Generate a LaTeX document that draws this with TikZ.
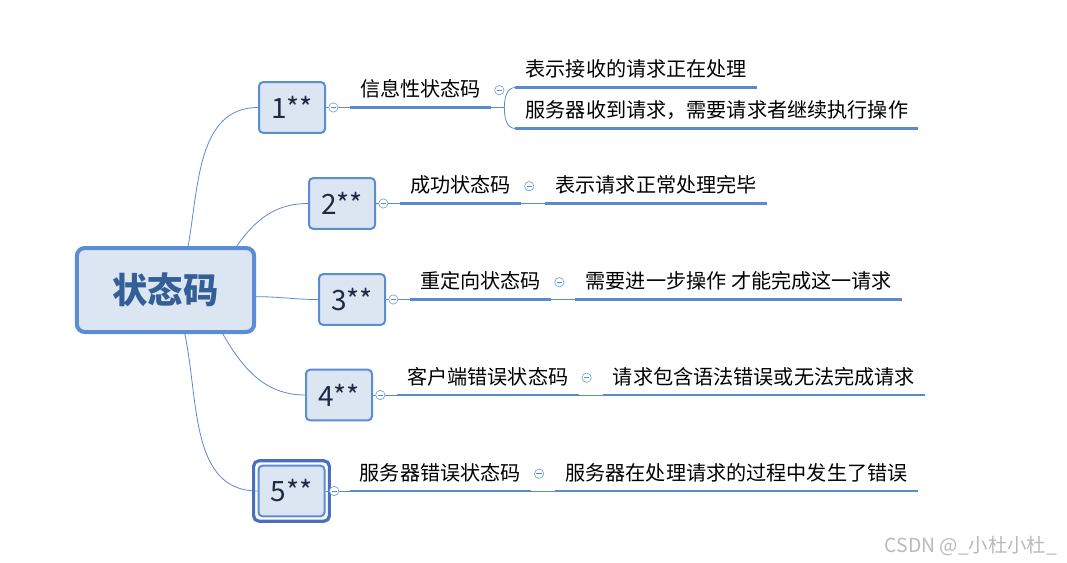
\documentclass[tikz,border=0pt]{standalone}
\usepackage{fontspec}
\setmainfont{Noto Sans CJK SC}
\usetikzlibrary{positioning}
\definecolor{boxblue}{HTML}{5B8DD4}
\definecolor{boxfill}{HTML}{DCE6F2}
\definecolor{rootext}{HTML}{335F96}
\definecolor{codetext}{HTML}{1F2A44}
\definecolor{lineblue}{HTML}{5A8AD0}
\definecolor{selblue}{HTML}{4A6FBF}
\tikzset{
    x=0.75pt, y=-0.75pt, % one unit is one pixel of the reference
    node distance=18pt,
    root/.style={draw=boxblue, line width=3pt, fill=boxfill, rounded corners=6pt,
        minimum width=133pt, minimum height=63pt, text=rootext,
        font=\fontsize{26.5}{26.5}\selectfont\bfseries},
    code/.style={draw=boxblue, line width=1.5pt, fill=boxfill, rounded corners=3pt,
        minimum width=49.5pt, minimum height=38pt, text=codetext,
        font=\fontsize{21}{21}\selectfont},
    selring/.style={draw=selblue, line width=2.4pt, rounded corners=4pt},
    lbl/.style={inner xsep=7.5pt, inner ysep=6pt, text height=11.5pt, text depth=2pt,
        font=\fontsize{15.1}{15.1}\selectfont},
    uline/.style={draw=lineblue, line width=2.2pt},
    branch/.style={draw=lineblue, line width=0.6pt},
    fold/.style={circle, draw=lineblue!80, fill=white, line width=0.5pt,
        minimum size=7pt, inner sep=0pt,
        path picture={\draw[lineblue, line width=0.5pt]
            ([xshift=-2pt]path picture bounding box.center) --
            ([xshift=2pt]path picture bounding box.center);}},
}
\begin{document}
\begin{tikzpicture}
    \useasboundingbox (0,0) rectangle (1067,563);

    % centre and the five classes
    \node[root] (root) at (165.5,290) {状态码};
    \node[code] (c1) at (292,107.5) {1**};
    \node[code] (c2) at (342,203.5) {2**};
    \node[code] (c3) at (352,299.5) {3**};
    \node[code] (c4) at (339,395) {4**};
    \node[code] (c5) at (291.5,491) {5**};

    % names of the classes
    \node[lbl, right=of c1.east, anchor=south west] (t1) {信息性状态码};
    \node[lbl, right=of c2.east, anchor=south west] (t2) {成功状态码};
    \node[lbl, right=of c3.east, anchor=south west] (t3) {重定向状态码};
    \node[lbl, right=of c4.east, anchor=south west] (t4) {客户端错误状态码};
    \node[lbl, right=of c5.east, anchor=south west] (t5) {服务器错误状态码};

    % what they mean
    \node[lbl, right=of t1.south east, anchor=south west, yshift=15pt] (t11) {表示接收的请求正在处理};
    \node[lbl, right=of t1.south east, anchor=south west, yshift=-15.75pt] (t12) {服务器收到请求，需要请求者继续执行操作};
    \node[lbl, right=of t2.south east, anchor=south west] (t21) {表示请求正常处理完毕};
    \node[lbl, right=of t3.south east, anchor=south west] (t31) {需要进一步操作 才能完成这一请求};
    \node[lbl, right=of t4.south east, anchor=south west] (t41) {请求包含语法错误或无法完成请求};
    \node[lbl, right=of t5.south east, anchor=south west] (t51) {服务器在处理请求的过程中发生了错误};

    % branches from the centre
    \draw[branch] ([xshift=17pt]root.north) to[out=80, in=180] (c1.west);
    \draw[branch] ([xshift=53.5pt]root.north) to[out=55, in=180] (c2.west);
    \draw[branch] ([yshift=-5pt]root.east) to[out=0, in=180] (c3.west);
    \draw[branch] ([xshift=43pt]root.south) to[out=-60, in=180] (c4.west);
    \draw[branch] ([xshift=14.5pt]root.south) to[out=-78, in=180] (c5.west);
    \draw[selring] ([shift={(-2.9pt,-2.9pt)}]c5.south west) rectangle ([shift={(2.9pt,2.9pt)}]c5.north east);

    % underlines and the thin lines between them
    \foreach \t in {t1,t2,t3,t4,t5,t11,t12,t21,t31,t41,t51}
        \draw[uline] (\t.south west) -- (\t.south east);
    \draw[branch] (c1.east) -- (t1.south west);
    \draw[branch] (c2.east) -- (t2.south west);
    \draw[branch] (c3.east) -- (t3.south west);
    \draw[branch] (c4.east) -- (t4.south west);
    \draw[branch] (c5.east) -- (t5.south west);
    \draw[branch] (t1.south east) -- ++(13,0) coordinate (b1);
    \draw[branch] (b1) to[out=90, in=180] (t11.south west);
    \draw[branch] (b1) to[out=-90, in=180] (t12.south west);
    \draw[branch] (t2.south east) -- (t21.south west);
    \draw[branch] (t3.south east) -- (t31.south west);
    \draw[branch] (t4.south east) -- (t41.south west);
    \draw[branch] (t5.south east) -- (t51.south west);

    % fold buttons
    \node[fold] (f1) at ([xshift=5.5pt]c1.east) {};
    \node[fold] (f2) at ([xshift=5.5pt]c2.east) {};
    \node[fold] (f3) at ([xshift=5.5pt]c3.east) {};
    \node[fold] (f4) at ([xshift=5.5pt]c4.east) {};
    \node[fold] (f5) at ([xshift=6.5pt]c5.east) {};
    \node[fold] (g1) at ([xshift=6pt]t1.east) {};
    \node[fold] (g2) at ([xshift=6pt]t2.east) {};
    \node[fold] (g3) at ([xshift=6pt]t3.east) {};
    \node[fold] (g4) at ([xshift=6pt]t4.east) {};
    \node[fold] (g5) at ([xshift=6pt]t5.east) {};

    \node[text=gray!55, font=\fontsize{14.5}{14.5}\selectfont] (wm) at (971,546) {CSDN @\_小杜小杜\_};
\end{tikzpicture}
\end{document}
